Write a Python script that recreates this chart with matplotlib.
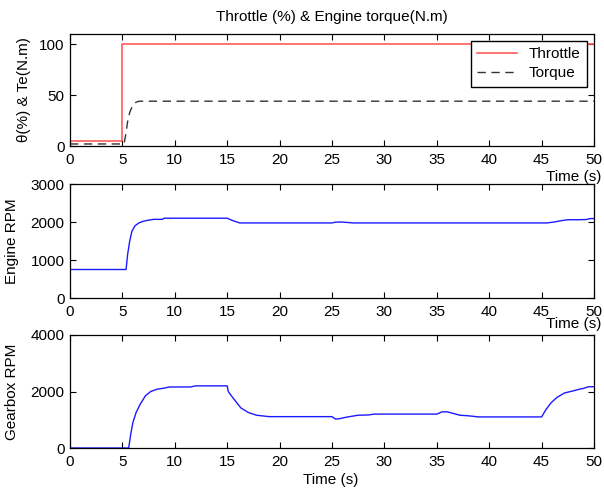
import numpy as np
import matplotlib
matplotlib.use("Agg")
import matplotlib.pyplot as plt

plt.rcParams['font.family'] = ['Liberation Sans', 'DejaVu Sans']
plt.rcParams['font.size'] = 11

# Throttle command (%)
throttle_t = [0, 5, 5, 50]
throttle_v = [5, 5, 100, 100]

# Engine torque (N.m)
torque_t = [0, 5.15, 5.3, 5.5, 5.7, 5.9, 6.1, 6.3, 6.6, 7.0, 50]
torque_v = [2, 2, 10, 24, 33, 38, 41, 43, 44, 44, 44]

# Engine speed (RPM)
engine_t = [0, 5.35, 5.5, 5.7, 5.9, 6.2, 6.6, 7.0, 7.5, 8.0, 8.8, 9.0, 15.0, 15.5, 16.2,
            25.0, 25.3, 25.9, 26.6, 27.0, 45.5, 46.2, 47.0, 47.5, 48.5, 49.3, 49.6, 50]
engine_v = [750, 750, 1150, 1500, 1750, 1900, 1980, 2020, 2050, 2070, 2070, 2100, 2100, 2040, 1975,
            1975, 1995, 2000, 1985, 1975, 1975, 2000, 2040, 2060, 2060, 2065, 2090, 2090]

# Gearbox output speed (RPM)
gearbox_t = [0, 5.6, 5.8, 6.0, 6.3, 6.7, 7.2, 7.7, 8.3, 9.0, 9.5, 11.5, 12.0, 15.0, 15.1,
             15.6, 16.3, 17.0, 17.8, 19.0, 25.0, 25.3, 25.6, 26.5, 27.5, 28.5, 29.0, 35.0,
             35.5, 36.0, 36.5, 37.2, 38.0, 39.0, 45.0, 45.4, 45.9, 46.5, 47.2, 48.0, 48.6,
             49.0, 49.5, 50]
gearbox_v = [0, 0, 500, 900, 1250, 1550, 1850, 2000, 2080, 2120, 2160, 2160, 2200, 2200, 2000,
             1750, 1420, 1260, 1160, 1110, 1110, 1030, 1030, 1100, 1160, 1170, 1200, 1200,
             1280, 1280, 1230, 1160, 1140, 1100, 1100, 1350, 1600, 1800, 1950, 2020, 2080,
             2110, 2170, 2170]

x_ticks = list(range(0, 51, 5))

fig = plt.figure(figsize=(6.04, 4.92), dpi=100)
W, H = 604, 492
LEFT, RIGHT = 70, 594

def make_axes(top, bottom):
    return fig.add_axes([LEFT / W, 1 - bottom / H, (RIGHT - LEFT) / W, (bottom - top) / H])

ax1 = make_axes(34, 146)
ax2 = make_axes(184, 298)
ax3 = make_axes(335, 448)

for ax in (ax1, ax2, ax3):
    ax.set_xlim(0, 50)
    ax.set_xticks(x_ticks)
    ax.tick_params(direction='in', top=True, right=True, length=4, width=0.8)
    ax.tick_params(axis='x', pad=5)
    ax.tick_params(axis='y', pad=4)
    for s in ax.spines.values():
        s.set_linewidth(0.9)

# Throttle and torque
ax1.plot(throttle_t, throttle_v, color='#ff4d4d', lw=1.1, label='Throttle')
ax1.plot(torque_t, torque_v, color='#333333', lw=1.0, ls=(0, (6, 4)), label='Torque')
ax1.set_ylim(0, 110)
ax1.set_yticks([0, 50, 100])
ax1.set_title('Throttle (%) & Engine torque(N.m)', fontsize=11, pad=9)
ax1.set_ylabel('θ(%) & Te(N.m)')
ax1.yaxis.set_label_coords(-0.0744, 0.5)
ax1.set_xlabel('Time (s)', loc='right')
ax1.xaxis.set_label_coords(1.015, -0.215)
ax1.xaxis.label.set_va('top')
leg = ax1.legend(loc='upper right', bbox_to_anchor=(0.9866, 0.9375), borderaxespad=0,
                 fancybox=False, edgecolor='black', framealpha=1, handlelength=2.6,
                 borderpad=0.4, labelspacing=0.35)
leg.get_frame().set_linewidth(1.0)

# Engine speed
ax2.plot(engine_t, engine_v, color='#1a1aff', lw=1.0)
ax2.set_ylim(0, 3000)
ax2.set_yticks([0, 1000, 2000, 3000])
ax2.set_ylabel('Engine RPM')
ax2.yaxis.set_label_coords(-0.097, 0.5)
ax2.set_xlabel('Time (s)', loc='right')
ax2.xaxis.set_label_coords(1.015, -0.17)
ax2.xaxis.label.set_va('top')

# Gearbox speed
ax3.plot(gearbox_t, gearbox_v, color='#1a1aff', lw=1.0)
ax3.set_ylim(0, 4000)
ax3.set_yticks([0, 2000, 4000])
ax3.set_ylabel('Gearbox RPM')
ax3.yaxis.set_label_coords(-0.097, 0.5)
ax3.set_xlabel('Time (s)')
ax3.xaxis.set_label_coords(0.497, -0.225)
ax3.xaxis.label.set_va('top')

fig.savefig('out.png', dpi=100)
